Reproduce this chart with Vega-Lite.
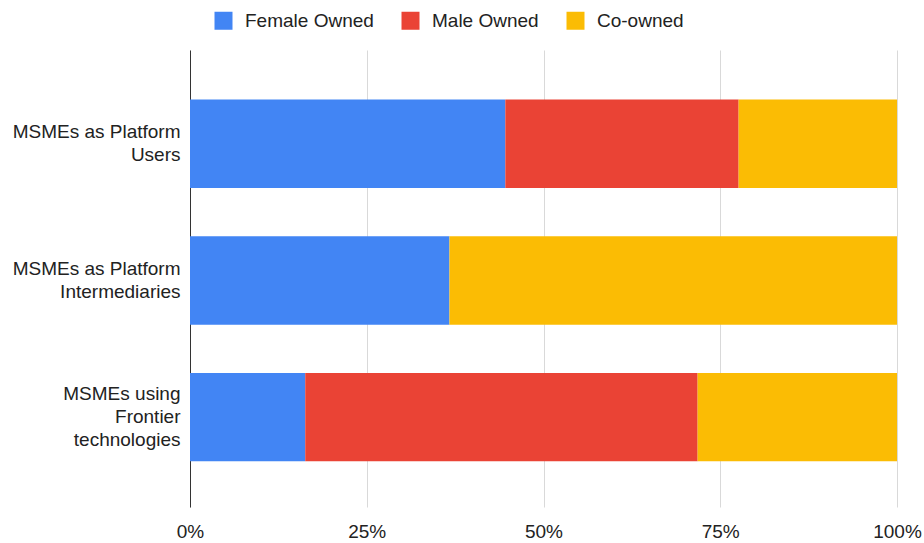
{
  "$schema": "https://vega.github.io/schema/vega-lite/v6.json",
  "autosize": {"type": "none"},
  "padding": {"left": 190, "top": 50, "right": 27, "bottom": 36},
  "width": 707,
  "height": 457,
  "background": "white",
  "config": {
    "font": "Liberation Sans",
    "view": {"stroke": null}
  },
  "data": {
    "values": [
      {"category": "MSMEs as Platform|Users", "owner": "Female Owned", "rank": 1, "share": 44.6},
      {"category": "MSMEs as Platform|Users", "owner": "Male Owned", "rank": 2, "share": 33.0},
      {"category": "MSMEs as Platform|Users", "owner": "Co-owned", "rank": 3, "share": 22.4},
      {"category": "MSMEs as Platform|Intermediaries", "owner": "Female Owned", "rank": 1, "share": 36.7},
      {"category": "MSMEs as Platform|Intermediaries", "owner": "Male Owned", "rank": 2, "share": 0},
      {"category": "MSMEs as Platform|Intermediaries", "owner": "Co-owned", "rank": 3, "share": 63.3},
      {"category": "MSMEs using|Frontier|technologies", "owner": "Female Owned", "rank": 1, "share": 16.3},
      {"category": "MSMEs using|Frontier|technologies", "owner": "Male Owned", "rank": 2, "share": 55.5},
      {"category": "MSMEs using|Frontier|technologies", "owner": "Co-owned", "rank": 3, "share": 28.2}
    ]
  },
  "mark": {"type": "bar"},
  "encoding": {
    "y": {
      "field": "category",
      "type": "nominal",
      "sort": null,
      "scale": {"paddingInner": 0.353, "paddingOuter": 0.348, "align": 0.52},
      "axis": {
        "title": null,
        "labelExpr": "split(datum.label, '|')",
        "labelFontSize": 19,
        "labelLineHeight": 23,
        "labelColor": "#222222",
        "labelPadding": 10,
        "labelOffset": {
          "condition": {"test": "indexof(datum.value, 'technologies') >= 0", "value": -23},
          "value": -11.5
        },
        "ticks": false,
        "domain": true,
        "domainColor": "#333333",
        "domainWidth": 1,
        "labelLimit": 250
      }
    },
    "x": {
      "field": "share",
      "type": "quantitative",
      "stack": "normalize",
      "scale": {"domain": [0, 1], "nice": false},
      "axis": {
        "title": null,
        "values": [0, 0.25, 0.5, 0.75, 1],
        "format": ".0%",
        "labelFontSize": 19,
        "labelColor": "#222222",
        "labelPadding": 15,
        "labelFlush": false,
        "ticks": false,
        "domain": false,
        "grid": true,
        "gridColor": "#d9d9d9",
        "gridWidth": 1
      }
    },
    "color": {
      "field": "owner",
      "type": "nominal",
      "sort": ["Female Owned", "Male Owned", "Co-owned"],
      "scale": {
        "domain": ["Female Owned", "Male Owned", "Co-owned"],
        "range": ["#4285F4", "#EA4335", "#FBBC04"]
      },
      "legend": {
        "title": null,
        "orient": "none",
        "direction": "horizontal",
        "legendX": 24,
        "legendY": -39,
        "symbolType": "square",
        "symbolSize": 324,
        "symbolStrokeWidth": 0,
        "labelFontSize": 19,
        "labelColor": "#222222",
        "labelOffset": 12,
        "columnPadding": 27,
        "padding": 0
      }
    },
    "order": {"field": "rank", "type": "quantitative"}
  }
}
